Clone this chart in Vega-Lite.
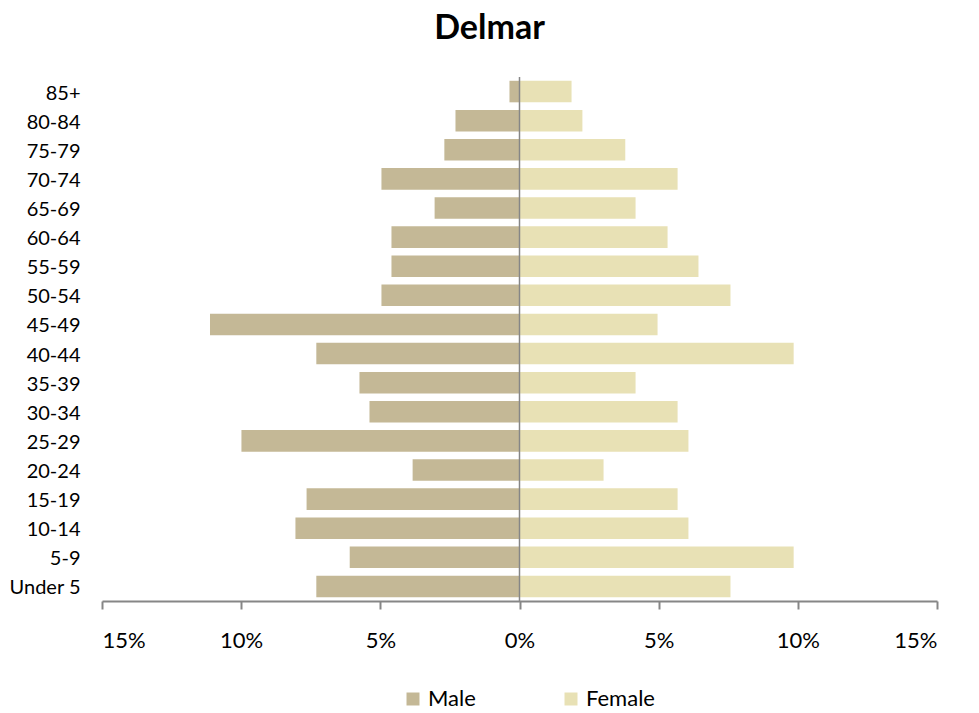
{
  "$schema": "https://vega.github.io/schema/vega-lite/v6.json",
  "width": 835,
  "height": 524,
  "autosize": {"type": "none"},
  "padding": {"left": 102, "top": 77, "right": 42, "bottom": 112},
  "background": "white",
  "title": {
    "text": "Delmar",
    "font": "Lato",
    "fontSize": 34,
    "fontWeight": "bold",
    "color": "#000000",
    "anchor": "middle",
    "dx": -30,
    "offset": 30
  },
  "config": {
    "view": {"stroke": null},
    "font": "Lato"
  },
  "datasets": {
    "pop": [
      {"age": "85+", "sex": "Male", "value": -0.0036},
      {"age": "80-84", "sex": "Male", "value": -0.023},
      {"age": "75-79", "sex": "Male", "value": -0.027},
      {"age": "70-74", "sex": "Male", "value": -0.0496},
      {"age": "65-69", "sex": "Male", "value": -0.0305},
      {"age": "60-64", "sex": "Male", "value": -0.046},
      {"age": "55-59", "sex": "Male", "value": -0.046},
      {"age": "50-54", "sex": "Male", "value": -0.0496},
      {"age": "45-49", "sex": "Male", "value": -0.1112},
      {"age": "40-44", "sex": "Male", "value": -0.073},
      {"age": "35-39", "sex": "Male", "value": -0.0575},
      {"age": "30-34", "sex": "Male", "value": -0.0539},
      {"age": "25-29", "sex": "Male", "value": -0.0999},
      {"age": "20-24", "sex": "Male", "value": -0.0384},
      {"age": "15-19", "sex": "Male", "value": -0.0765},
      {"age": "10-14", "sex": "Male", "value": -0.0805},
      {"age": "5-9", "sex": "Male", "value": -0.061},
      {"age": "Under 5", "sex": "Male", "value": -0.073},
      {"age": "85+", "sex": "Female", "value": 0.0187},
      {"age": "80-84", "sex": "Female", "value": 0.0226},
      {"age": "75-79", "sex": "Female", "value": 0.038},
      {"age": "70-74", "sex": "Female", "value": 0.0568},
      {"age": "65-69", "sex": "Female", "value": 0.0417},
      {"age": "60-64", "sex": "Female", "value": 0.0532},
      {"age": "55-59", "sex": "Female", "value": 0.0643},
      {"age": "50-54", "sex": "Female", "value": 0.0758},
      {"age": "45-49", "sex": "Female", "value": 0.0496},
      {"age": "40-44", "sex": "Female", "value": 0.0985},
      {"age": "35-39", "sex": "Female", "value": 0.0417},
      {"age": "30-34", "sex": "Female", "value": 0.0568},
      {"age": "25-29", "sex": "Female", "value": 0.0607},
      {"age": "20-24", "sex": "Female", "value": 0.0302},
      {"age": "15-19", "sex": "Female", "value": 0.0568},
      {"age": "10-14", "sex": "Female", "value": 0.0607},
      {"age": "5-9", "sex": "Female", "value": 0.0985},
      {"age": "Under 5", "sex": "Female", "value": 0.0758}
    ],
    "zero": [{"x": 0}]
  },
  "layer": [
    {
      "data": {"name": "pop"},
      "mark": {"type": "bar"},
      "encoding": {
        "y": {
          "field": "age",
          "type": "nominal",
          "sort": ["85+", "80-84", "75-79", "70-74", "65-69", "60-64", "55-59", "50-54", "45-49", "40-44", "35-39", "30-34", "25-29", "20-24", "15-19", "10-14", "5-9", "Under 5"],
          "scale": {"paddingInner": 0.26, "paddingOuter": 0.13},
          "axis": {
            "title": null,
            "domain": false,
            "ticks": false,
            "labelPadding": 22,
            "labelOffset": 2,
            "labelFont": "Lato",
            "labelFontSize": 20,
            "labelColor": "#000000",
            "grid": false
          }
        },
        "x": {
          "field": "value",
          "type": "quantitative",
          "scale": {"domain": [-0.15, 0.15], "nice": false, "zero": false},
          "axis": {
            "title": null,
            "values": [-0.15, -0.1, -0.05, 0, 0.05, 0.1, 0.15],
            "labelExpr": "format(abs(datum.value), '.0%')",
            "grid": false,
            "domainColor": "#868686",
            "domainWidth": 2,
            "tickColor": "#868686",
            "tickWidth": 2,
            "tickSize": 8,
            "labelPadding": 21,
            "labelFont": "Lato",
            "labelFontSize": 22,
            "labelColor": "#000000"
          }
        },
        "color": {
          "field": "sex",
          "type": "nominal",
          "sort": ["Male", "Female"],
          "scale": {"domain": ["Male", "Female"], "range": ["#C4B896", "#E8E1B5"]},
          "legend": {
            "title": null,
            "orient": "none",
            "direction": "horizontal",
            "legendX": 300,
            "legendY": 611,
            "padding": 0,
            "symbolType": "square",
            "symbolSize": 169,
            "symbolStrokeWidth": 0,
            "labelFont": "Lato",
            "labelFontSize": 22,
            "labelColor": "#000000",
            "labelOffset": 4,
            "columnPadding": 84
          }
        }
      }
    },
    {
      "data": {"name": "zero"},
      "mark": {"type": "rule", "color": "#868686", "strokeWidth": 1.5},
      "encoding": {
        "x": {"field": "x", "type": "quantitative"}
      }
    }
  ]
}
